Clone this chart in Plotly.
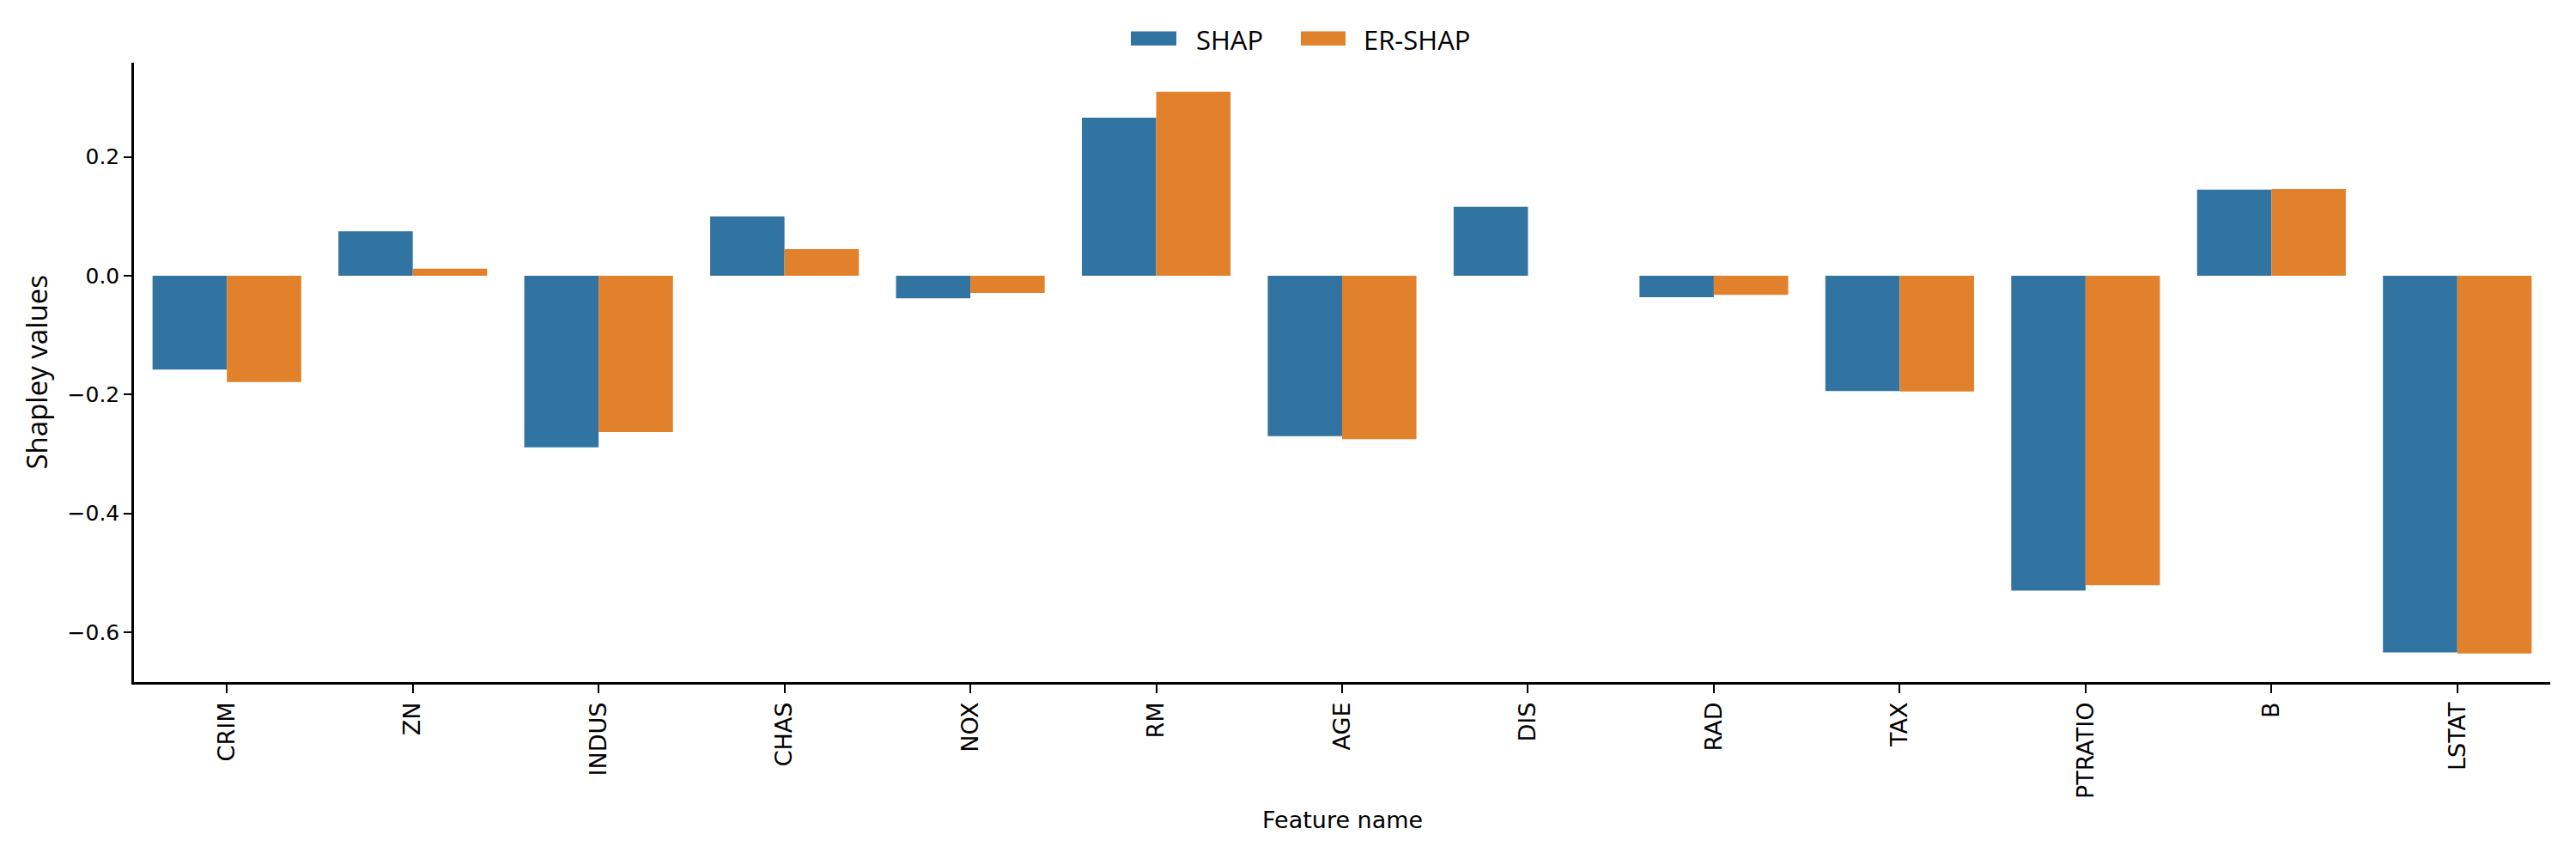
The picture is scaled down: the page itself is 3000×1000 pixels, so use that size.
import plotly.graph_objects as go

features = ["CRIM", "ZN", "INDUS", "CHAS", "NOX", "RM", "AGE", "DIS", "RAD", "TAX", "PTRATIO", "B", "LSTAT"]
shap_values = [-0.158, 0.075, -0.289, 0.100, -0.038, 0.266, -0.270, 0.116, -0.036, -0.194, -0.530, 0.145, -0.634]
er_shap_values = [-0.179, 0.012, -0.263, 0.045, -0.029, 0.310, -0.275, 0.0, -0.032, -0.195, -0.521, 0.146, -0.636]
series_names = ["SHAP", "ER-SHAP"]
series_colors = ["#3274a1", "#e1812c"]
y_ticks = [-0.6, -0.4, -0.2, 0.0, 0.2]

OFF = 8  # default page margin of the browser
W, H = 3000 - OFF, 1000 - OFF
# plot area in page pixels: x 156..2970, y 73..794
L, T = 156 - OFF, 73 - OFF
R = W - (2970 - OFF)
B = H - (794 - OFF)
pw, ph = W - L - R, H - T - B

def px_x(p):
    return (p - OFF - L) / pw

def px_y(p):
    return (H - B - (p - OFF)) / ph

fig = go.Figure()
for name, vals, col in zip(series_names, [shap_values, er_shap_values], series_colors):
    fig.add_trace(go.Bar(x=features, y=vals, name=name, marker=dict(color=col, line=dict(width=0)),
                         showlegend=False))

# legend drawn manually (patch + label)
legend_patch_x = [(1317, 1370), (1515, 1567)]
legend_text_x = [1391, 1586]
shapes = []
annotations = []
for (x0, x1), tx, name, col in zip(legend_patch_x, legend_text_x, series_names, series_colors):
    shapes.append(dict(type="rect", xref="paper", yref="paper",
                       x0=px_x(x0), x1=px_x(x1), y0=px_y(53), y1=px_y(36.5),
                       fillcolor=col, line=dict(width=0)))
    annotations.append(dict(text=name, xref="paper", yref="paper", x=px_x(tx), y=px_y(46),
                            xanchor="left", yanchor="middle", showarrow=False,
                            font=dict(family="Open Sans", size=31, color="black")))

annotations.append(dict(text="Shapley values", xref="paper", yref="paper", x=px_x(42), y=0.5,
                        xanchor="center", yanchor="middle", textangle=-90, showarrow=False,
                        font=dict(family="Open Sans", size=33, color="black")))
annotations.append(dict(text="Feature name", xref="paper", yref="paper", x=0.5, y=px_y(955),
                        xanchor="center", yanchor="middle", showarrow=False,
                        font=dict(family="DejaVu Sans", size=27, color="black")))

fig.update_layout(
    width=W, height=H,
    margin=dict(l=L, r=R, t=T, b=B, autoexpand=False),
    paper_bgcolor="white", plot_bgcolor="white",
    barmode="group", bargap=0.2, bargroupgap=0,
    shapes=shapes, annotations=annotations,
    showlegend=False,
)
fig.update_xaxes(
    type="category", range=[-0.5, 12.5],
    showline=True, linecolor="black", linewidth=2.5, mirror=False,
    ticks="outside", ticklen=10, tickwidth=2, tickcolor="black",
    tickangle=-90, showgrid=False, zeroline=False,
    tickfont=dict(family="DejaVu Sans", size=27, color="black"),
)
fig.update_yaxes(
    range=[-0.684, 0.3587],
    tickvals=y_ticks, tickformat=".1f",
    showline=True, linecolor="black", linewidth=2.5, mirror=False,
    ticks="outside", ticklen=9, tickwidth=2, tickcolor="black",
    showgrid=False, zeroline=False,
    tickfont=dict(family="DejaVu Sans", size=25, color="black"),
)

fig.write_html("out.html")
